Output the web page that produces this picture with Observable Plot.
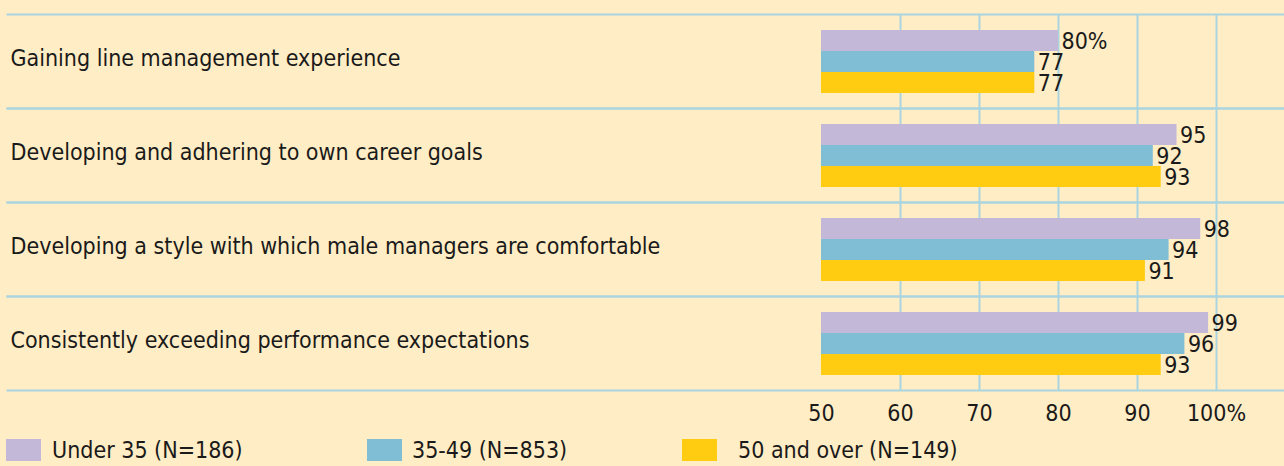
<!DOCTYPE html>
<html>
<head>
<meta charset="utf-8">
<script src="https://cdn.jsdelivr.net/npm/d3@7"></script>
<script src="https://cdn.jsdelivr.net/npm/@observablehq/plot@0.6"></script>
<style>
  html, body { margin: 0; padding: 0; background: #FFEDC5; width: 1284px; height: 466px; overflow: hidden; }
  #chart svg { display: block; }
  .legend { position: relative; height: 36px; font-family: "DejaVu Sans Condensed", sans-serif; font-size: 23px; color: #1a1a1a; }
  .item { position: absolute; top: 9px; display: flex; align-items: center; line-height: 22px; }
  .sw { width: 35px; height: 22px; }
</style>
</head>
<body>
<div id="chart"></div>
<div class="legend" id="legend"></div>
<script>
const categories = [
  "Gaining line management experience",
  "Developing and adhering to own career goals",
  "Developing a style with which male managers are comfortable",
  "Consistently exceeding performance expectations"
];
const groups = ["Under 35 (N=186)", "35-49 (N=853)", "50 and over (N=149)"];
const colors = ["#C4B8D9", "#80BED6", "#FFCC11"];
const under35 = [80, 95, 98, 99];
const age35to49 = [77, 92, 94, 96];
const over50 = [77, 93, 91, 93];
const tickValues = [50, 60, 70, 80, 90, 100];
const gridValues = [60, 70, 80, 90, 100];

const series = [under35, age35to49, over50];
const data = [];
categories.forEach((c, i) => {
  groups.forEach((g, j) => {
    data.push({category: c, group: g, value: series[j][i], first: i === 0 && j === 0});
  });
});

const gridColor = "#A9D4E0";
const textColor = "#1a1a1a";
const font = "'DejaVu Sans Condensed', sans-serif";

const chart = Plot.plot({
  width: 1284,
  height: 430,
  marginLeft: 7,
  marginRight: 0,
  marginTop: 14,
  marginBottom: 40,
  style: {background: "transparent", fontFamily: font, fontSize: "23px", color: textColor},
  x: {domain: [50, 100], range: [821, 1216], ticks: tickValues, tickFormat: d => d === 100 ? "100%" : String(d), tickSize: 0, tickPadding: 14, label: null},
  y: {domain: groups, paddingInner: 0, paddingOuter: 0.67, axis: null},
  fy: {domain: categories, padding: 0, axis: null},
  color: {domain: groups, range: colors},
  marks: [
    Plot.ruleX(gridValues, {stroke: gridColor, strokeWidth: 2}),
    Plot.frame({anchor: "top", stroke: gridColor, strokeWidth: 2}),
    Plot.frame({anchor: "bottom", stroke: gridColor, strokeWidth: 2}),
    Plot.barX(data, {fy: "category", y: "group", x1: 50, x2: "value", fill: "group"}),
    Plot.text(data, {fy: "category", y: "group", x: "value", text: d => d.first ? d.value + "%" : String(d.value), textAnchor: "start", dx: 3, dy: 1, fontSize: 23, fill: textColor}),
    Plot.text(categories, {fy: d => d, text: d => d, frameAnchor: "left", dx: 3, dy: -3, textAnchor: "start", fontSize: 23, fill: textColor})
  ]
});
document.getElementById("chart").appendChild(chart);

const lefts = [6, 367, 682];
const gaps = [11, 10, 21];
const legend = document.getElementById("legend");
groups.forEach((g, i) => {
  const item = document.createElement("div");
  item.className = "item";
  item.style.left = lefts[i] + "px";
  const sw = document.createElement("div");
  sw.className = "sw";
  sw.style.background = colors[i];
  sw.style.marginRight = gaps[i] + "px";
  const t = document.createElement("span");
  t.textContent = g;
  item.appendChild(sw);
  item.appendChild(t);
  legend.appendChild(item);
});
</script>
</body>
</html>
